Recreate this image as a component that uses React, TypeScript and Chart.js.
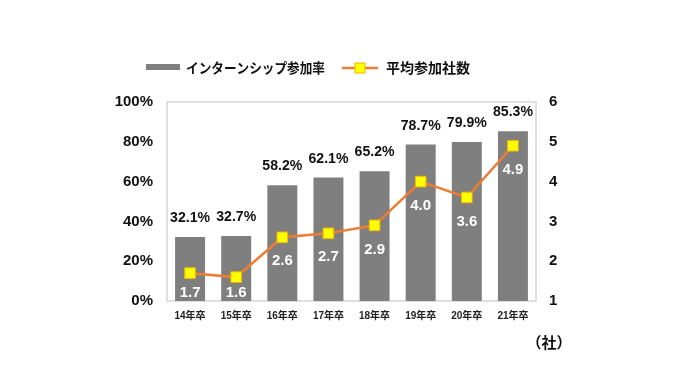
import React, { useEffect, useRef } from 'react';
import { Chart, registerables } from 'chart.js';

Chart.register(...registerables);

const categories = ['14年卒', '15年卒', '16年卒', '17年卒', '18年卒', '19年卒', '20年卒', '21年卒'];
const internshipRate = [32.1, 32.7, 58.2, 62.1, 65.2, 78.7, 79.9, 85.3];
const avgCompanies = [1.7, 1.6, 2.6, 2.7, 2.9, 4.0, 3.6, 4.9];
const legendLabels = ['インターンシップ参加率', '平均参加社数'];
const unitLabel = '（社）';

const BAR_COLOR = '#7f7f7f';
const LINE_COLOR = '#ED7D31';
const POINT_COLOR = '#FFFF00';
const NUM_FONT = '"Liberation Sans", "Noto Sans CJK JP", sans-serif';
const JP_FONT = '"Noto Sans CJK JP", sans-serif';

const decorPlugin = {
  id: 'decor',
  beforeDatasetsDraw(chart: any) {
    const { ctx, chartArea: a } = chart;
    ctx.save();
    ctx.strokeStyle = '#d6d6d6';
    ctx.lineWidth = 1.5;
    ctx.strokeRect(a.left, a.top, a.right - a.left, a.bottom - a.top);
    ctx.restore();
  },
  afterDatasetsDraw(chart: any) {
    const { ctx, chartArea: a } = chart;
    ctx.save();
    // bar value labels
    ctx.textAlign = 'center';
    ctx.textBaseline = 'middle';
    ctx.fillStyle = '#111';
    ctx.font = `bold 15px ${NUM_FONT}`;
    chart.getDatasetMeta(1).data.forEach((bar: any, i: number) => {
      ctx.fillText(internshipRate[i].toFixed(1) + '%', bar.x, bar.y - 19, 40);
    });
    // line value labels
    ctx.fillStyle = '#ffffff';
    ctx.font = `bold 15px ${NUM_FONT}`;
    chart.getDatasetMeta(0).data.forEach((pt: any, i: number) => {
      ctx.fillText(avgCompanies[i].toFixed(1), pt.x, Math.min(pt.y + 24, a.bottom - 8));
    });
    // legend
    const ly = 67;
    ctx.fillStyle = BAR_COLOR;
    ctx.fillRect(146, ly - 3, 34, 6);
    ctx.fillStyle = '#111';
    ctx.textAlign = 'left';
    ctx.font = `bold 14px ${JP_FONT}`;
    ctx.fillText(legendLabels[0], 186, ly + 1, 139);
    ctx.strokeStyle = LINE_COLOR;
    ctx.lineWidth = 2.5;
    ctx.beginPath();
    ctx.moveTo(342, ly + 1);
    ctx.lineTo(378, ly + 1);
    ctx.stroke();
    ctx.fillStyle = POINT_COLOR;
    ctx.fillRect(355, ly - 4, 10, 10);
    ctx.strokeStyle = '#F2B600';
    ctx.lineWidth = 1;
    ctx.strokeRect(355, ly - 4, 10, 10);
    ctx.fillStyle = '#111';
    ctx.fillText(legendLabels[1], 386, ly + 1, 87);
    // unit
    ctx.font = `bold 15px ${JP_FONT}`;
    ctx.textAlign = 'center';
    ctx.fillText(unitLabel, 549, 342);
    ctx.restore();
  },
};

export default function App() {
  const ref = useRef<HTMLCanvasElement>(null);
  useEffect(() => {
    if (!ref.current) return;
    const chart = new Chart(ref.current, {
      type: 'bar',
      data: {
        labels: categories,
        datasets: [
          {
            type: 'line',
            label: legendLabels[1],
            data: avgCompanies,
            yAxisID: 'y1',
            borderColor: LINE_COLOR,
            borderWidth: 2.5,
            pointStyle: 'rect',
            pointRadius: 7.5,
            pointBackgroundColor: POINT_COLOR,
            pointBorderColor: '#F2B600',
            pointBorderWidth: 1,
            tension: 0,
            order: 0,
          } as any,
          {
            type: 'bar',
            label: legendLabels[0],
            data: internshipRate,
            yAxisID: 'y',
            backgroundColor: BAR_COLOR,
            barPercentage: 0.65,
            categoryPercentage: 1,
            order: 1,
          },
        ],
      },
      options: {
        responsive: false,
        animation: false,
        layout: { padding: { left: 0, right: 100, top: 102, bottom: 59 } },
        plugins: { legend: { display: false }, tooltip: { enabled: false } },
        scales: {
          x: {
            grid: { display: false, drawTicks: false },
            border: { display: false },
            ticks: { color: '#222', font: { size: 10, weight: 'bold', family: NUM_FONT }, padding: 9 },
            afterFit: (s: any) => { s.height = 30; },
          },
          y: {
            position: 'left',
            min: 0,
            max: 100,
            grid: { display: false, drawTicks: false },
            border: { display: false },
            ticks: {
              stepSize: 20,
              padding: 14,
              color: '#111',
              font: { size: 15, weight: 'bold', family: NUM_FONT },
              callback: (v: any) => v + '%',
            },
            afterFit: (s: any) => { s.width = 167; },
          },
          y1: {
            position: 'right',
            min: 1,
            max: 6,
            grid: { display: false, drawTicks: false },
            border: { display: false },
            ticks: {
              stepSize: 1,
              padding: 13,
              color: '#111',
              font: { size: 15, weight: 'bold', family: NUM_FONT },
            },
            afterFit: (s: any) => { s.width = 44; },
          },
        },
      } as any,
      plugins: [decorPlugin],
    });
    return () => chart.destroy();
  }, []);
  return (
    <div style={{ position: 'absolute', left: 0, top: 0, width: 680, height: 390, background: '#fff' }}>
      <canvas ref={ref} width={680} height={390} style={{ width: 680, height: 390, display: 'block' }} />
    </div>
  );
}
